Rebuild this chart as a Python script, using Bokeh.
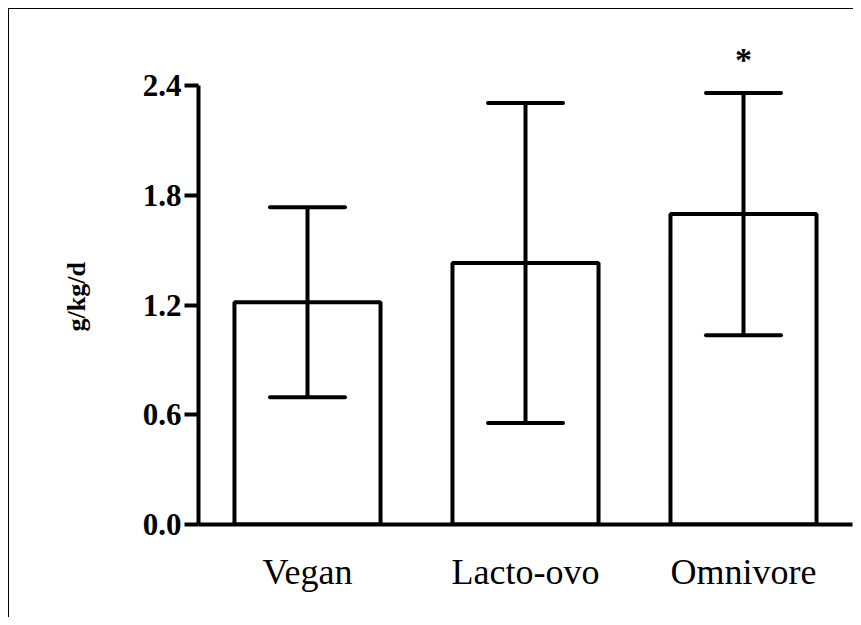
from bokeh.plotting import figure
from bokeh.models import (ColumnDataSource, FactorRange, Range1d, FixedTicker,
                          PrintfTickFormatter, Whisker, TeeHead, Title)
from bokeh.core.properties import value
from bokeh.embed import file_html
from bokeh.resources import INLINE

# ---- data ----
categories = ["Vegan", "Lacto-ovo", "Omnivore"]
means = [1.216, 1.430, 1.698]
sds = [0.520, 0.875, 0.663]
significance = ["", "", "*"]
y_ticks = [0.0, 0.6, 1.2, 1.8, 2.4]
y_label = "g/kg/d"

upper = [m + s for m, s in zip(means, sds)]
lower = [m - s for m, s in zip(means, sds)]
sig_y = [u + 0.18 for u in upper]

src = ColumnDataSource(dict(cat=categories, mean=means, upper=upper,
                            lower=lower, sig=significance, sig_y=sig_y))

FONT = "Liberation Serif"
LW = 4

p = figure(width=845, height=609, x_range=FactorRange(*categories),
           y_range=Range1d(0, 2.653), output_backend="svg",
           toolbar_location=None, min_border_left=189, min_border_right=2,
           min_border_top=30, min_border_bottom=94)
p.styles = {"border-top": "1px solid black", "border-left": "1px solid black",
            "margin-left": "8px", "margin-top": "8px"}
p.outline_line_color = None
p.xgrid.visible = False
p.ygrid.visible = False
p.background_fill_color = "white"
p.border_fill_color = "white"

p.vbar(x="cat", top="mean", bottom=0, width=0.67, source=src,
       fill_color="white", line_color="black", line_width=LW)

w = Whisker(source=src, base="cat", upper="upper", lower="lower",
            line_color="black", line_width=LW, level="overlay",
            upper_head=TeeHead(size=75, line_width=LW, line_color="black", line_cap="round"),
            lower_head=TeeHead(size=75, line_width=LW, line_color="black", line_cap="round"))
p.add_layout(w)

p.text(x="cat", y="sig_y", text="sig", source=src,
       text_align="center", text_baseline="alphabetic",
       text_font=value(FONT), text_font_size="34px", text_font_style="bold",
       text_color="black")

# x axis
xa = p.xaxis[0]
xa.axis_line_width = LW
xa.axis_line_color = "black"
xa.major_tick_out = 0
xa.major_tick_in = 0
xa.minor_tick_out = 0
xa.major_label_standoff = 27
xa.major_label_text_font = FONT
xa.major_label_text_font_size = "36px"
xa.major_label_text_color = "black"

# y axis
ya = p.yaxis[0]
ya.ticker = FixedTicker(ticks=y_ticks)
ya.formatter = PrintfTickFormatter(format="%.1f")
ya.bounds = (0, 2.4)
ya.axis_line_width = LW
ya.axis_line_color = "black"
ya.major_tick_line_width = LW
ya.major_tick_line_color = "black"
ya.major_tick_out = 14
ya.major_tick_in = 0
ya.minor_tick_out = 0
ya.minor_tick_in = 0
ya.major_label_standoff = 3
ya.major_label_text_font = FONT
ya.major_label_text_font_size = "31px"
ya.major_label_text_font_style = "bold"
ya.major_label_text_color = "black"

# y axis label as a left title so it can be positioned along the axis
yt = Title(text=y_label, align="left", vertical_align="middle", offset=193,
           standoff=96, text_font=FONT, text_font_size="26px",
           text_font_style="bold", text_color="black")
p.add_layout(yt, "left")

open("out.html", "w").write(file_html(p, INLINE))
